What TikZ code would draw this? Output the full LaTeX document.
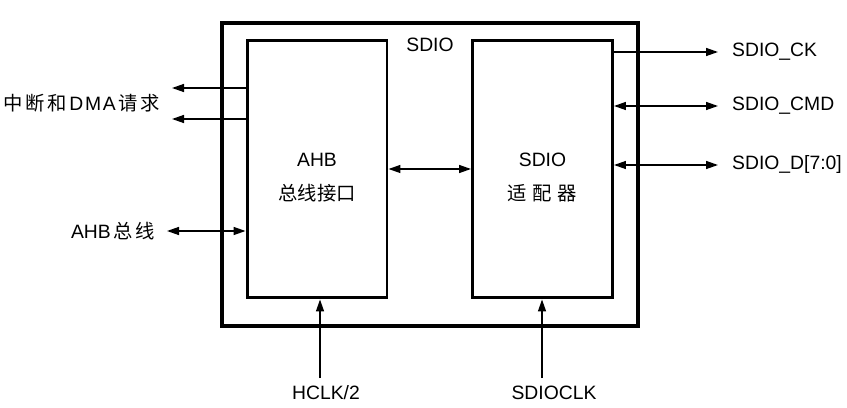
\documentclass[tikz,border=0pt]{standalone}
\usepackage{fontspec}
\setmainfont{Liberation Sans}
\newfontfamily\cjk{Noto Sans CJK SC}
\newfontfamily\cjkw{Noto Sans CJK SC}[LetterSpace=14]
\usetikzlibrary{arrows.meta,calc}

\begin{document}
\begin{tikzpicture}[x=0.02cm, y=-0.02cm, >={Triangle[length=2.4mm,width=1.6mm]},
    font=\fontsize{11}{13}\selectfont,
    blk/.style={draw, line width=1.7pt, minimum width=2.8cm, minimum height=5.16cm, inner sep=0pt},
    sig/.style={line width=0.8pt}]
  \useasboundingbox (0,0) rectangle (847,408);

  % --- bloque SDIO exterior ---
  \node[draw, line width=2.3pt, minimum width=8.32cm, minimum height=6.06cm, inner sep=0pt]
    (sdio) at (430,174.5) {};
  \node (tsdio) at (430,45) {SDIO};

  % --- bloques internos ---
  \node[blk] (ahb) at (317,169) {};
  \node[blk] (adp) at (542.5,169) {};
  \node (tahb) at (317,160) {AHB};
  \node (tbus) at (317,193) {\cjk 总线接口};
  \node (tadp) at (542.5,160) {SDIO};
  \node (tadp2) at (542.5,193) {\cjk 适\hspace{0.3em}配\hspace{0.3em}器};

  \draw[sig, <->] (ahb.east) -- (adp.east -| adp.west);

  % --- lado izquierdo ---
  \coordinate (irqa) at (172,88);
  \coordinate (irqb) at (172,119);
  \coordinate (bus) at (167,231);
  \draw[sig, ->] (ahb.west |- irqa) -- (irqa);
  \draw[sig, ->] (ahb.west |- irqb) -- (irqb);
  \draw[sig, <->] (bus) -- (ahb.west |- bus);
  \node[anchor=east] (tirq) at (166,103)
    {\cjkw 中断和\kern1.5pt\rmfamily D\kern1pt M\kern1pt A\kern1.5pt\cjkw 请求};
  \node[anchor=east] (tbusl) at (161,231) {AHB\kern1.5pt\cjkw 总线};

  % --- lado derecho ---
  \coordinate (ck) at (718,52);
  \coordinate (cmd) at (718,106);
  \coordinate (dat) at (718,165);
  \draw[sig, ->] (adp.east |- ck) -- (ck);
  \draw[sig, <->] (adp.east |- cmd) -- (cmd);
  \draw[sig, <->] (adp.east |- dat) -- (dat);
  \node[anchor=west] (tck) at (726,52) {SDIO\_CK};
  \node[anchor=west] (tcmd) at (726,106) {SDIO\_CMD};
  \node[anchor=west] (tdat) at (726,165) {SDIO\_D[7:0]};

  % --- relojes ---
  \coordinate (hclk) at (320,378);
  \coordinate (sdclk) at (542,378);
  \draw[sig, ->] (hclk) -- (ahb.south -| hclk);
  \draw[sig, ->] (sdclk) -- (adp.south -| sdclk);
  \node (thclk) at (326,393) {HCLK/2};
  \node (tsdclk) at (554,393) {SDIOCLK};
\end{tikzpicture}
\end{document}
